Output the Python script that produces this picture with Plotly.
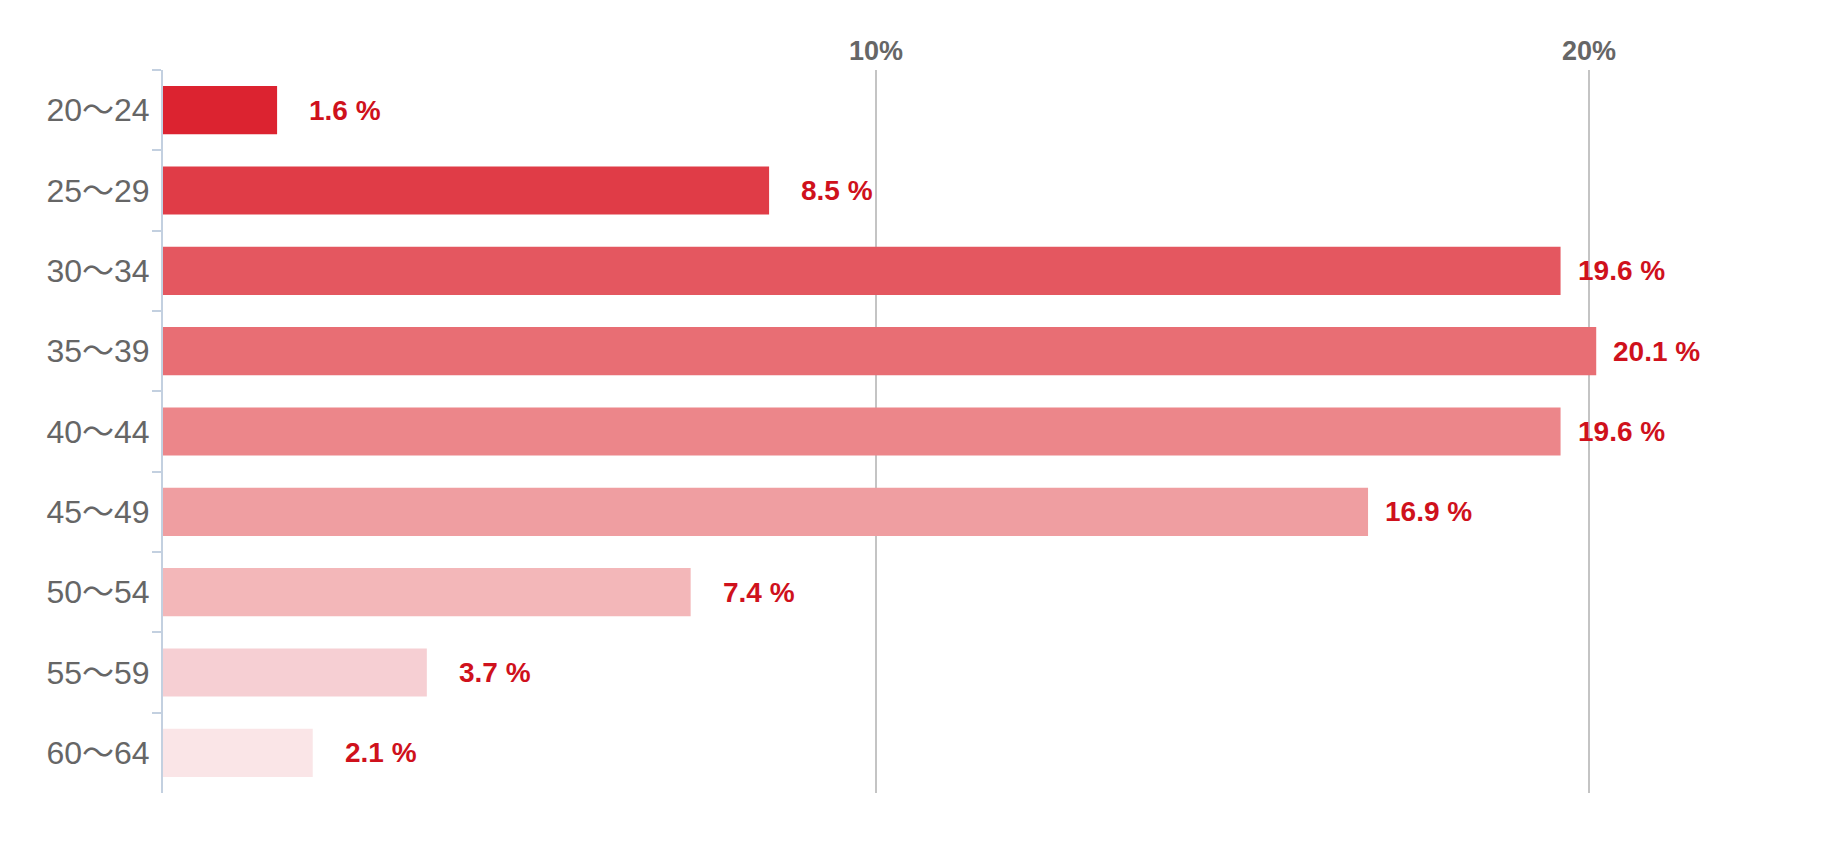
import plotly.graph_objects as go

categories = ["20〜24", "25〜29", "30〜34", "35〜39", "40〜44", "45〜49", "50〜54", "55〜59", "60〜64"]
values = [1.6, 8.5, 19.6, 20.1, 19.6, 16.9, 7.4, 3.7, 2.1]
bar_colors = ["#dc2330", "#e03c47", "#e45760", "#e86e74", "#ec868a",
              "#ef9ea1", "#f3b7b9", "#f6cfd3", "#fae5e7"]
tick_vals = [10, 20]
tick_text = ["10%", "20%"]

fig = go.Figure()
fig.add_trace(go.Bar(
    x=values, y=categories, orientation="h",
    marker=dict(color=bar_colors, line=dict(width=0)),
    hoverinfo="skip",
))

for c, v in zip(categories, values):
    fig.add_annotation(
        x=v, y=c, xref="x", yref="y",
        text=f"{v:.1f} %", showarrow=False,
        xanchor="right", xshift=106,
        font=dict(family="Liberation Sans, Arial, sans-serif", size=28, color="#cf111c", weight="bold"),
    )

fig.update_layout(
    width=1809, height=841,
    margin=dict(l=155, r=14, t=62, b=56),
    paper_bgcolor="white", plot_bgcolor="white",
    bargap=0.4,
    showlegend=False,
    xaxis=dict(
        range=[0, 23], side="top",
        tickvals=tick_vals, ticktext=tick_text,
        showgrid=True, gridcolor="#c4c4c4", gridwidth=2,
        zeroline=False, showline=False, ticks="",
        tickfont=dict(family="Liberation Sans, Arial, sans-serif", size=27, color="#666666", weight="bold"),
        ticklabelstandoff=4,
        fixedrange=True,
    ),
    yaxis=dict(
        type="category", categoryorder="array", categoryarray=categories,
        autorange="reversed",
        showline=True, linecolor="#c3d0e0", linewidth=2,
        ticks="outside", ticklen=9, tickcolor="#c3d0e0", tickwidth=2,
        tickson="boundaries",
        showgrid=False, zeroline=False,
        tickfont=dict(family="Liberation Sans, Noto Sans CJK JP, sans-serif", size=32, color="#666666"),
        ticklabelstandoff=5,
        fixedrange=True,
    ),
)

fig.write_html("out.html")
